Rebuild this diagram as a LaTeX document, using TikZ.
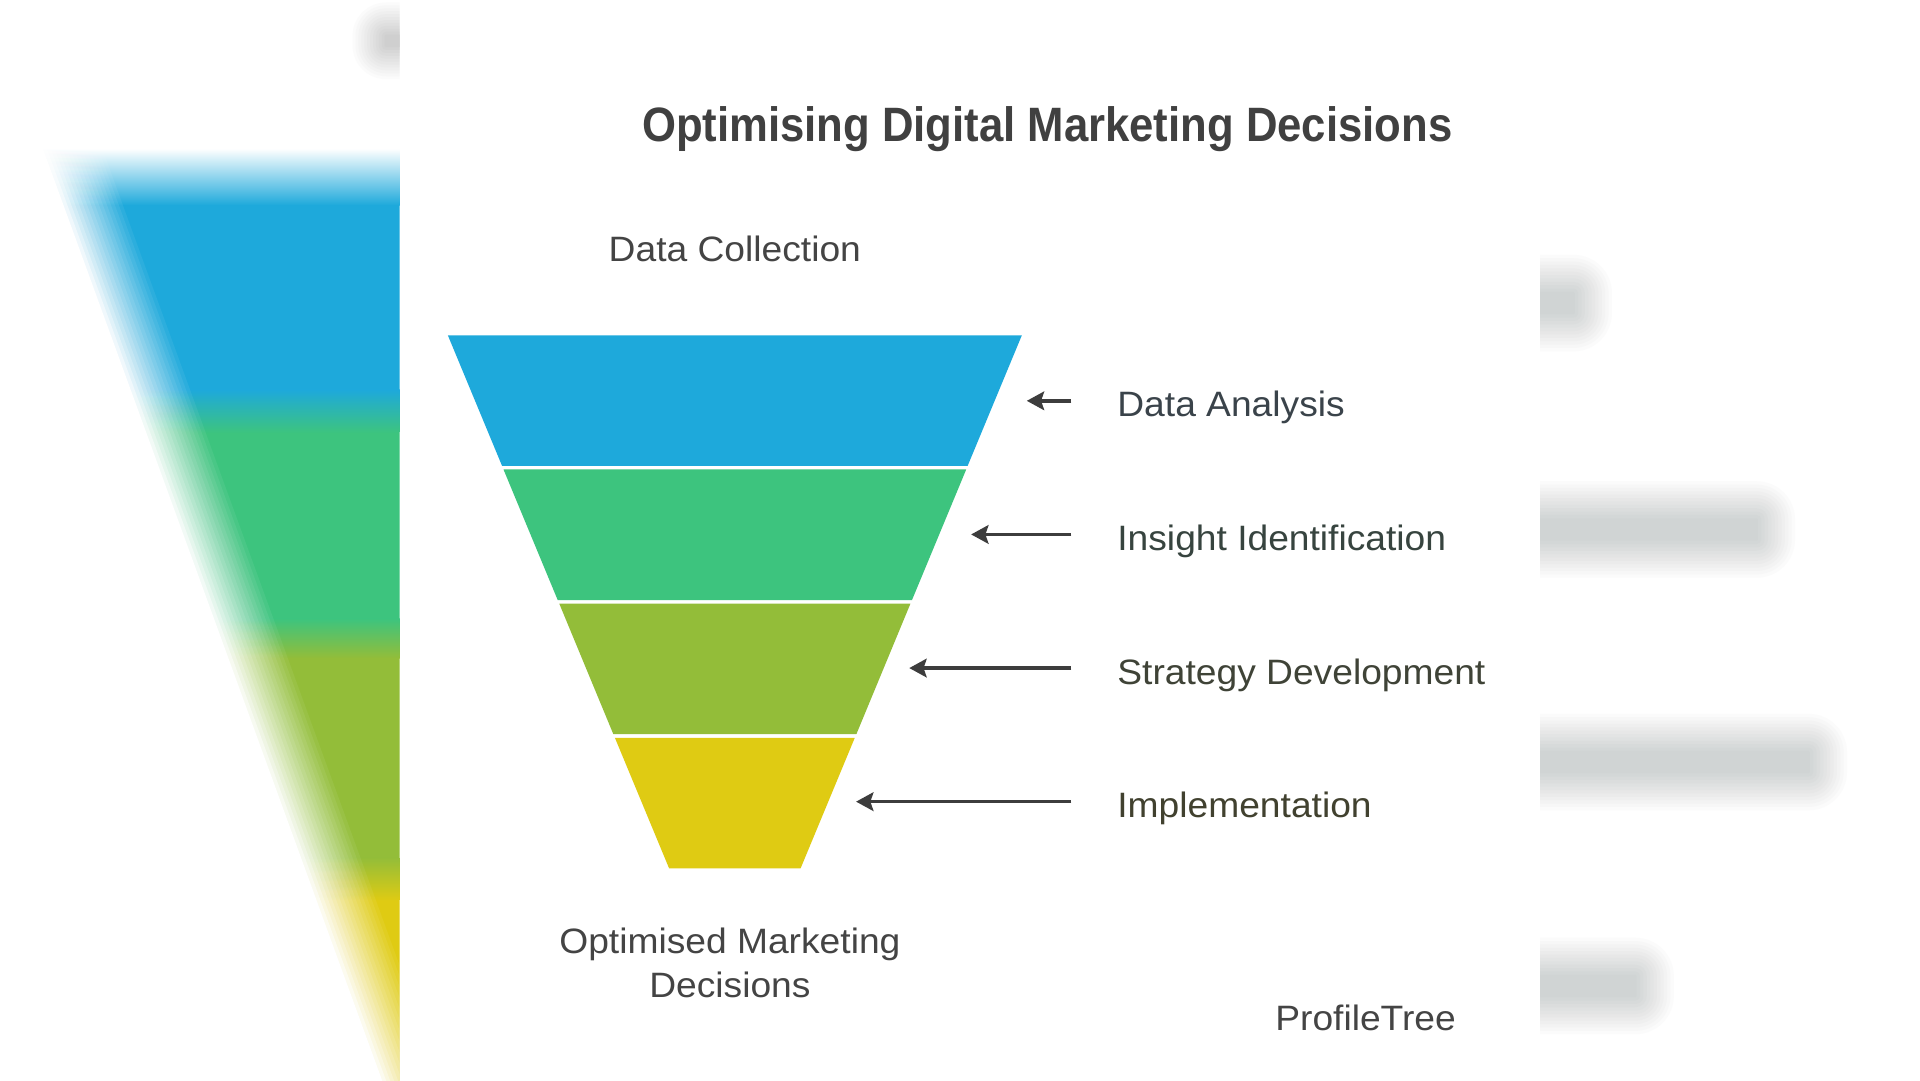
\documentclass[tikz,border=0pt]{standalone}
\usepackage{fontspec}
\setmainfont{Liberation Sans}
\newfontfamily\lblfont[FakeStretch=1.055]{Liberation Sans}
\newfontfamily\ttlfont[FakeStretch=0.905]{Liberation Sans Bold}
\usetikzlibrary{arrows.meta}
\definecolor{fblue}{HTML}{1EA9DB}
\definecolor{fgreen}{HTML}{3DC47E}
\definecolor{folive}{HTML}{93BD39}
\definecolor{fyellow}{HTML}{DFCB13}
\definecolor{barg}{HTML}{D0D4D4}
\definecolor{blobg}{HTML}{CFCFCF}
\definecolor{titlec}{HTML}{404040}
\definecolor{txtc}{HTML}{444444}
\definecolor{labA}{HTML}{3A434A}
\definecolor{labB}{HTML}{37443F}
\definecolor{labC}{HTML}{3F4337}
\definecolor{labD}{HTML}{41412F}
\definecolor{arrc}{HTML}{3D3D3D}
\newcommand\blurbar[2]{%
  \foreach \j [evaluate=\j as \e using {30*(1-\j/11)+1}, evaluate=\j as \a using {0.92/(12-\j)}] in {0,...,11} {
    \fill[barg, opacity=\a, rounded corners=\e] (1200,{#1-8-\e}) rectangle ({#2+\e},{#1+8+\e});
  }}
\begin{document}
\begin{tikzpicture}[x=1pt,y=-1pt,
  lbl/.style={inner sep=0pt, anchor=base west, font=\fontsize{28.5}{34}\lblfont},
  txt/.style={inner sep=0pt, text=txtc, font=\fontsize{28.5}{36}\lblfont},
  arr/.style={draw=arrc, line width=2.8pt, -{Stealth[length=14pt, width=15pt, inset=2.5pt]}}]
\useasboundingbox (0,0) rectangle (1552,873);
\fill[white] (0,0) rectangle (1552,873);

% ---------- blurred background, left ----------
\begin{scope}
\clip (0,0) rectangle (323,873);
\shade[top color=white, bottom color=fblue] (0,120) rectangle (323,166);
\fill[fblue] (0,166) rectangle (323,315);
\shade[top color=fblue, bottom color=fgreen] (0,315) rectangle (323,350);
\fill[fgreen] (0,350) rectangle (323,500);
\shade[top color=fgreen, bottom color=folive] (0,500) rectangle (323,532);
\fill[folive] (0,532) rectangle (323,693);
\shade[top color=folive, bottom color=fyellow] (0,693) rectangle (323,728);
\fill[fyellow] (0,728) rectangle (323,883);
\foreach \j [evaluate=\j as \d using {24-3.2*\j}, evaluate=\j as \a using {1/(16-\j)}] in {0,...,15} {
  \fill[white, opacity=\a] (-30,-10) -- ({11.3+\d},-10) -- ({336.4+\d},883) -- (-30,883) -- cycle;
}
\foreach \j [evaluate=\j as \e using {26*(1-\j/11)+1}, evaluate=\j as \a using {0.85/(12-\j)}] in {0,...,11} {
  \fill[blobg, opacity=\a, rounded corners=\e] ({312-\e},{29-\e}) rectangle (380,{37+\e});
}
\end{scope}

% ---------- blurred background, right ----------
\begin{scope}
\clip (1245,0) rectangle (1552,873);
\blurbar{245}{1272}
\blurbar{428}{1420}
\blurbar{616}{1462}
\blurbar{797}{1322}
\end{scope}

% ---------- title ----------
\node[inner sep=0pt, anchor=base, text=titlec, font=\fontsize{39}{44}\ttlfont] (title) at (846.5,114) {Optimising Digital Marketing Decisions};

% ---------- funnel ----------
\fill[fblue]   (362,271)   -- (826,271)   -- (782.2,376.5) -- (405.8,376.5) -- cycle;
\fill[fgreen]  (407,379.5) -- (781,379.5) -- (737.2,485)   -- (450.8,485)   -- cycle;
\fill[folive]  (452.1,488) -- (735.9,488) -- (692.2,593.5) -- (495.8,593.5) -- cycle;
\fill[fyellow] (497.1,596.5) -- (690.9,596.5) -- (647.1,702) -- (540.9,702) -- cycle;

\node[txt, anchor=base] (top) at (594,211) {Data Collection};
\node[txt, anchor=north, align=center] (bottom) at (590,749.5) {Optimised Marketing\\Decisions};

% ---------- labels and arrows ----------
\node[lbl, text=labA] (l1) at (903,337) {Data Analysis};
\node[lbl, text=labB] (l2) at (903,445) {Insight Identification};
\node[lbl, text=labC] (l3) at (903,553) {Strategy Development};
\node[lbl, text=labD] (l4) at (903,661) {Implementation};

\coordinate (t1) at (866,324); \coordinate (h1) at (830,324);
\coordinate (t2) at (866,432); \coordinate (h2) at (785,432);
\coordinate (t3) at (866,540); \coordinate (h3) at (735,540);
\coordinate (t4) at (866,648); \coordinate (h4) at (692,648);
\draw[arr] (t1) -- (h1);
\draw[arr] (t2) -- (h2);
\draw[arr] (t3) -- (h3);
\draw[arr] (t4) -- (h4);

\node[txt, anchor=base east] (brand) at (1177,833) {ProfileTree};
\end{tikzpicture}
\end{document}
